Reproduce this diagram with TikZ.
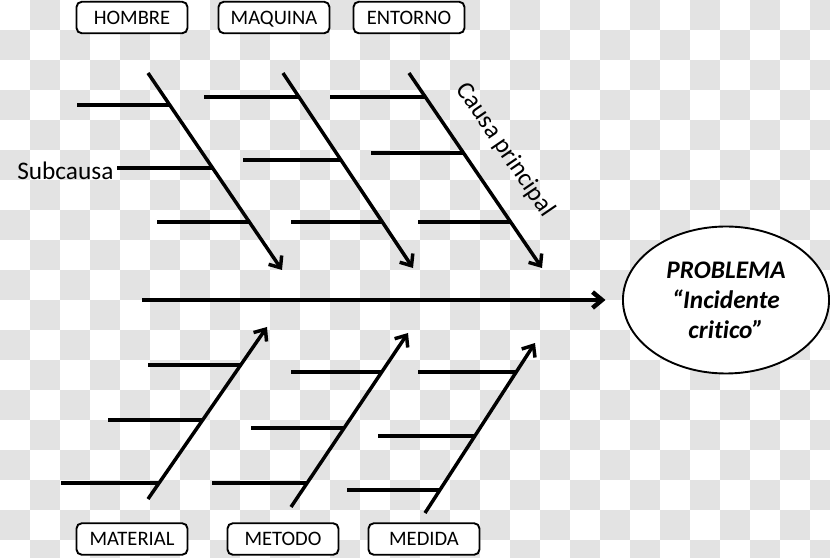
\documentclass[tikz,border=0pt]{standalone}
\usepackage{fontspec}
\setmainfont{Carlito}[Ligatures={TeX,CommonOff}]
\usetikzlibrary{arrows.meta,calc,shapes.geometric}

\begin{document}
\begin{tikzpicture}[
  >={Straight Barb[length=9pt,width=15pt]},
  cause/.style={rectangle, rounded corners=5pt, draw=black, line width=1.8pt, fill=white,
                minimum width=3.7cm, minimum height=1.05cm, inner sep=0pt,
                text height=14.6pt, text depth=2pt,
                font=\fontsize{19.5}{22}\selectfont},
  prob/.style={ellipse, draw=black, line width=1.8pt, fill=white,
               minimum width=6.87cm, minimum height=4.9cm, inner sep=0pt, align=center,
               font=\fontsize{24}{28.5}\selectfont\bfseries\itshape},
  spine/.style={->, line width=4.2pt},
  bone/.style={->, line width=3.3pt},
  sub/.style={line width=3.7pt},
  lbl/.style={font=\fontsize{24}{28}\selectfont},
  chk/.style={fill=black!11},
]

\useasboundingbox (0,0) rectangle (27.667,18.567);
\begin{scope}
  \clip (0,0) rectangle (27.667,18.567);
  \fill[white] (0,0) rectangle (27.667,18.567);
  \foreach \c in {0,...,27}{
    \foreach \r in {0,...,18}{
      \pgfmathtruncatemacro\odd{mod(\c+\r,2)}
      \ifnum\odd=1 \fill[chk] (\c,18.567-\r) rectangle ++(1,-1); \fi
    }
  }
\end{scope}

\coordinate (b1s) at (4.933,16.133);  \coordinate (b1e) at (9.4,9.567);
\coordinate (b2s) at (9.433,16.133);  \coordinate (b2e) at (13.767,9.633);
\coordinate (b3s) at (13.633,16.133); \coordinate (b3e) at (18.067,9.633);
\coordinate (b4s) at (4.933,1.933);   \coordinate (b4e) at (8.9,7.667);
\coordinate (b5s) at (9.7,1.667);     \coordinate (b5e) at (13.6,7.467);
\coordinate (b6s) at (14.167,1.467);  \coordinate (b6e) at (17.833,7.133);
\coordinate (tail) at (4.733,8.567);

\node[prob] (pb) at (24.2,8.567) {PROBLEMA\\“Incidente\\critico”};

\node[cause] (hombre)   at (4.4,17.983)   {HOMBRE};
\node[cause] (maquina)  at (9.133,17.983) {MAQUINA};
\node[cause] (entorno)  at (13.633,17.983){ENTORNO};
\node[cause] (material) at (4.4,0.6)      {MATERIAL};
\node[cause] (metodo)   at (9.433,0.6)    {METODO};
\node[cause] (medida)   at (14.133,0.6)   {MEDIDA};

\draw[spine, shorten >=0.55cm] (tail) -- (pb);

\draw[bone] (b1s) -- (b1e);
\draw[bone] (b2s) -- (b2e);
\draw[bone] (b3s) -- (b3e);
\draw[bone] (b4s) -- (b4e);
\draw[bone] (b5s) -- (b5e);
\draw[bone] (b6s) -- (b6e);

\draw[sub] ($(b1s)!.162!(b1e)$) -- ++(-3.1,0);
\draw[sub] ($(b1s)!.482!(b1e)$) -- ++(-3.17,0)
  node[lbl, left, inner sep=2pt, yshift=-1mm] (subc) {Subcausa};
\draw[sub] ($(b1s)!.756!(b1e)$) -- ++(-3.07,0);

\draw[sub] ($(b2s)!.123!(b2e)$) -- ++(-3.17,0);
\draw[sub] ($(b2s)!.446!(b2e)$) -- ++(-3.27,0);
\draw[sub] ($(b2s)!.764!(b2e)$) -- ++(-3.03,0);

\draw[sub] ($(b3s)!.123!(b3e)$) -- ++(-3.17,0);
\draw[sub] ($(b3s)!.41!(b3e)$)  -- ++(-3.1,0);
\draw[sub] ($(b3s)!.764!(b3e)$) -- ++(-3.1,0);

\draw[sub] ($(b4s)!.093!(b4e)$) -- ++(-3.27,0);
\draw[sub] ($(b4s)!.459!(b4e)$) -- ++(-3.17,0);
\draw[sub] ($(b4s)!.779!(b4e)$) -- ++(-3.1,0);

\draw[sub] ($(b5s)!.138!(b5e)$) -- ++(-3.17,0);
\draw[sub] ($(b5s)!.454!(b5e)$) -- ++(-3.1,0);
\draw[sub] ($(b5s)!.776!(b5e)$) -- ++(-3.03,0);

\draw[sub] ($(b6s)!.135!(b6e)$) -- ++(-3.1,0);
\draw[sub] ($(b6s)!.453!(b6e)$) -- ++(-3.23,0);
\draw[sub] ($(b6s)!.829!(b6e)$) -- ++(-3.27,0);

\node[lbl, rotate=-55.7] (cp) at ($ ($(b3s)!.5!(b3e)$) !1.2cm!90:(b3e) $) {Causa principal};

\end{tikzpicture}
\end{document}
